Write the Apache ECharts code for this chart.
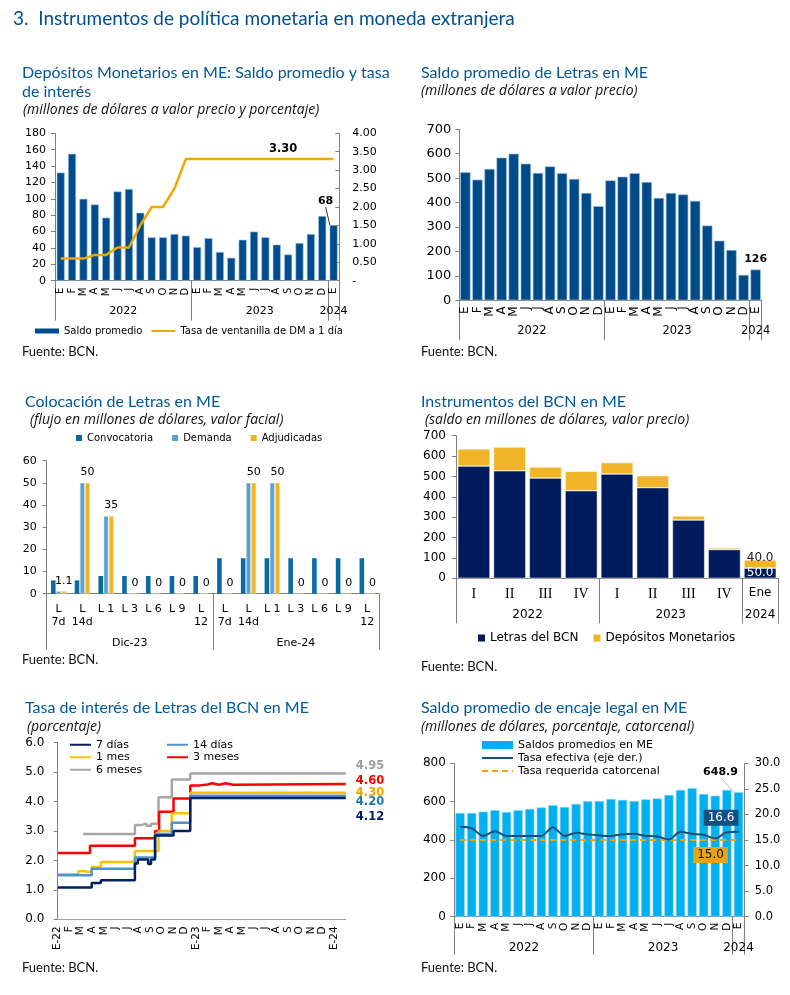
<!DOCTYPE html>
<html><head><meta charset="utf-8">
<script src="https://cdn.jsdelivr.net/npm/echarts@6/dist/echarts.min.js"></script>
<style>html,body{margin:0;padding:0;background:#fff}#c{width:790px;height:995px}</style>
</head><body><div id="c"></div>
<script>
// ---------- data ----------
const monthLetters = ['E','F','M','A','M','J','J','A','S','O','N','D','E','F','M','A','M','J','J','A','S','O','N','D','E'];
const years = ['2022','2023','2024'];
const yearCentres = [6, 18, 24.5];

// Panel 1: Depósitos Monetarios
const dmSaldo = [132,155,100,93,77,109,112,83,53,53,57,55,41,52,35,28,50,60,53,44,32,46,57,79,68];
const dmTasa = [0.60,0.60,0.60,0.70,0.70,0.90,0.90,1.50,2.00,2.00,2.50,3.30,3.30,3.30,3.30,3.30,3.30,3.30,3.30,3.30,3.30,3.30,3.30,3.30,3.30];

// Panel 2: Saldo promedio de Letras
const letrasSaldo = [524,494,538,584,600,559,521,548,520,497,439,385,491,506,520,484,419,439,433,407,306,244,206,104,126];

// Panel 3: Colocación de Letras
const colocCats = ['L\n7d','L\n14d','L 1','L 3','L 6','L 9','L\n12','L\n7d','L\n14d','L 1','L 3','L 6','L 9','L\n12'];
const colocGroups = ['Dic-23','Ene-24'];
const colocGroupCentres = [3.5, 10.5];
const convocatoria = [6,6,8,8,8,8,8,16,16,16,16,16,16,16];
const demanda = [1.1,50,35,0,0,0,0,0,50,50,0,0,0,0];
const adjudicadas = [1.1,50,35,0,0,0,0,0,50,50,0,0,0,0];

// Panel 4: Instrumentos del BCN
const instrCats = ['I','II','III','IV','I','II','III','IV','Ene'];
const instrYears = ['2022','2023','2024'];
const instrYearCentres = [2, 6, 8.5];
const letrasBCN = [551,528,492,430,512,445,286,141,50];
const depMonetarios = [84,116,54,95,56,59,20,8,40];

// Panel 5: Tasa de interés de Letras (month index, %)
const p5Ticks = ['E-22','F','M','A','M','J','J','A','S','O','N','D','E-23','F','M','A','M','J','J','A','S','O','N','D','E-24'];
const tasa7d = [[0,1.08],[2.95,1.23],[3.75,1.33],[6.7,1.90],[6.95,2.03],[7.85,1.88],[8.1,2.03],[8.45,2.85],[10.05,3.00],[11.5,4.12],[25,4.12]];
const tasa14d = [[0,1.50],[2.95,1.72],[6.7,2.10],[8.45,2.90],[9.9,3.28],[11.5,4.20],[25,4.20]];
const tasa1m = [[0,1.53],[1.8,1.63],[2.3,1.60],[2.95,1.78],[3.75,1.95],[6.7,2.32],[8.75,3.00],[9.9,3.60],[11.5,4.30],[25,4.30]];
const tasa3m = [[0,2.25],[2.8,2.50],[6.7,2.75],[8.45,3.00],[8.8,3.65],[10.05,4.10],[11.5,4.55],[12.3,4.58],[13.0,4.62],[13.4,4.57],[14.0,4.62],[14.6,4.57],[15.2,4.60],[25,4.60]];
const tasa6m = [[2.2,2.90],[6.7,3.20],[7.2,3.25],[7.7,3.18],[8.1,3.25],[8.75,4.15],[9.9,4.75],[11.5,4.95],[25,4.95]];
const p5EndLabels = ['4.12','4.20','4.30','4.60','4.95'];

// Panel 6: Encaje legal
const encajeSaldo = [541,541,548,556,546,555,562,570,581,572,588,602,603,614,609,603,612,617,635,661,670,640,631,661,648.9];
const tasaEfectiva = [17.6,17.3,15.8,16.7,15.8,15.8,15.8,15.8,17.5,15.8,16.4,16.1,15.9,15.8,16.1,16.2,15.8,15.7,15.1,16.6,16.2,16.0,15.3,16.5,16.6];
const tasaRequerida = [15,15,15,15,15,15,15,15,15,15,15,15,15,15,15,15,15,15,15,15,15,15,15,15,15];

// ---------- styling helpers ----------
const FONT = 'DejaVu Sans';
const TFONT = 'Lato';
const AX = '#808080';
const TXT = '#000';
const TBLUE = '#00589a';

function sepTicks(list) { return function (i) { return list.indexOf(i) >= 0; }; }
function monthAxis(gridIndex, data, sepIdx, tickLen, fontSize, margin) {
  return { gridIndex, type: 'category', data, position: 'bottom', boundaryGap: true,
    axisLine: { show: true, onZero: false, lineStyle: { color: AX } },
    axisTick: { show: true, alignWithLabel: false, interval: sepTicks(sepIdx), length: tickLen, lineStyle: { color: AX } },
    axisLabel: { interval: 0, rotate: 90, fontSize, fontFamily: FONT, color: TXT, margin },
    splitLine: { show: false } };
}
function groupAxis(gridIndex, max, labels, centres, margin, fontSize) {
  return { gridIndex, type: 'value', position: 'bottom', min: 0, max, interval: 0.5,
    axisLine: { show: false, onZero: false }, axisTick: { show: false }, splitLine: { show: false },
    axisLabel: { margin, fontSize, fontFamily: FONT, color: TXT, showMinLabel: true, showMaxLabel: true,
      formatter: function (v) { const k = centres.indexOf(v); return k >= 0 ? labels[k] : ''; } } };
}
function valAxis(gridIndex, min, max, interval, o) {
  o = o || {};
  return { gridIndex, type: 'value', min, max, interval, position: o.position || 'left', offset: o.offset || 0,
    axisLine: { show: true, lineStyle: { color: AX } },
    axisTick: { show: true, length: 4, inside: !!o.tickInside, lineStyle: { color: AX } },
    splitLine: { show: false },
    axisLabel: { fontSize: o.fontSize || 11, fontFamily: FONT, color: TXT, margin: o.margin || 8,
      formatter: o.formatter, align: o.align } };
}
function t(text, left, top, style) {
  return { text, left, top, padding: 0, textStyle: Object.assign({ fontFamily: TFONT, fontWeight: 'normal', color: TBLUE, fontSize: 16, lineHeight: 19 }, style || {}) };
}
const subStyle = { color: '#111', fontFamily: 'Open Sans', fontStyle: 'italic', fontSize: 14, lineHeight: 16 };
const srcStyle = { color: '#111', fontSize: 13, lineHeight: 16 };
const lineLegendItem = function (name) { return { name, itemStyle: { opacity: 0 } }; };
const legendText = function (size, lh) { return { fontFamily: FONT, fontSize: size, lineHeight: lh, color: TXT }; };

const last = 24;
function withLabel(arr, idx, extra) {
  return arr.map(function (v, i) { return i === idx ? Object.assign({ value: v }, extra) : v; });
}

const option = {
  animation: false,
  backgroundColor: '#fff',
  title: [
    t('3.  Instrumentos de política monetaria en moneda extranjera', 13, 6.5, { fontSize: 19, lineHeight: 24, color: '#00508f' }),
    t('Depósitos Monetarios en ME: Saldo promedio y tasa\nde interés', 22, 63.5),
    t('(millones de dólares a valor precio y porcentaje)', 23, 102, subStyle),
    t('Fuente: BCN.', 22, 344, srcStyle),
    t('Saldo promedio de Letras en ME', 421, 63.5),
    t('(millones de dólares a valor precio)', 421, 83, subStyle),
    t('Fuente: BCN.', 421, 344, srcStyle),
    t('Colocación de Letras en ME', 25, 392.5),
    t('(flujo en millones de dólares, valor facial)', 30, 412, subStyle),
    t('Fuente: BCN.', 22, 652, srcStyle),
    t('Instrumentos del BCN en ME', 421, 392.5),
    t('(saldo en millones de dólares, valor precio)', 425, 412, subStyle),
    t('Fuente: BCN.', 421, 659, srcStyle),
    t('Tasa de interés de Letras del BCN en ME', 25, 698.5),
    t('(porcentaje)', 27, 719, subStyle),
    t('Fuente: BCN.', 22, 960, srcStyle),
    t('Saldo promedio de encaje legal en ME', 421, 698.5),
    t('(millones de dólares, porcentaje, catorcenal)', 421, 719, subStyle),
    t('Fuente: BCN.', 421, 960, srcStyle)
  ],
  legend: [
    { data: [{ name: 'Saldo promedio', icon: 'rect' }, lineLegendItem('Tasa de ventanilla de DM a 1 día')], left: 35, top: 326, padding: 0,
      itemWidth: 24, itemHeight: 5, itemGap: 8, itemStyle: { borderWidth: 0 }, textStyle: legendText(10) },
    { data: ['Convocatoria', 'Demanda', 'Adjudicadas'], icon: 'rect', left: 76, top: 433, padding: 0,
      itemWidth: 6, itemHeight: 6, itemGap: 19, itemStyle: { borderWidth: 0 }, textStyle: legendText(10) },
    { data: ['Letras del BCN', 'Depósitos Monetarios'], icon: 'rect', left: 478, top: 632, padding: 0,
      itemWidth: 7, itemHeight: 7, itemGap: 15, itemStyle: { borderWidth: 0 }, textStyle: legendText(12) },
    { data: ['7 días', '1 mes', '6 meses'].map(lineLegendItem), orient: 'vertical', left: 69, top: 738.5, padding: 0,
      itemWidth: 21, itemHeight: 8, itemGap: 0, textStyle: legendText(11, 12.5) },
    { data: ['14 días', '3 meses'].map(lineLegendItem), orient: 'vertical', left: 166, top: 738.5, padding: 0,
      itemWidth: 21, itemHeight: 8, itemGap: 0, textStyle: legendText(11, 12.5) },
    { data: [{ name: 'Saldos promedios en ME', icon: 'rect' }, lineLegendItem('Tasa efectiva (eje der.)'), lineLegendItem('Tasa requerida catorcenal')], orient: 'vertical',
      left: 481, top: 738.5, padding: 0, itemWidth: 31, itemHeight: 8, itemGap: 0, itemStyle: { borderWidth: 0 },
      textStyle: legendText(11, 13) }
  ],
  grid: [
    { left: 55, top: 133.3, width: 284.3, height: 147.4 },
    { left: 459.3, top: 129.3, width: 302.4, height: 171 },
    { left: 46.7, top: 460.7, width: 332.3, height: 133 },
    { left: 456, top: 435.7, width: 322, height: 142.6 },
    { left: 57.7, top: 742.7, width: 288.1, height: 176.6 },
    { left: 454.3, top: 763.3, width: 290, height: 153.4 }
  ].map(function (g) { return Object.assign({ containLabel: false, outerBoundsMode: 'none' }, g); }),
  xAxis: [
    monthAxis(0, monthLetters, [0, 12, 24], 40, 10, 7),            // 0
    groupAxis(0, 25, years, yearCentres, 25, 11),                   // 1
    monthAxis(1, monthLetters, [0, 12, 24], 40, 12, 6),            // 2
    groupAxis(1, 25, years, yearCentres, 25, 11.5),                 // 3
    { gridIndex: 2, type: 'category', data: colocCats, position: 'bottom', boundaryGap: true,   // 4
      axisLine: { show: true, onZero: false, lineStyle: { color: AX } },
      axisTick: { show: true, alignWithLabel: false, interval: sepTicks([0, 7]), length: 56, lineStyle: { color: AX } },
      axisLabel: { interval: 0, fontSize: 11, lineHeight: 13, fontFamily: FONT, color: TXT, margin: 9 }, splitLine: { show: false } },
    groupAxis(2, 14, colocGroups, colocGroupCentres, 44, 11),        // 5
    { gridIndex: 3, type: 'category', data: instrCats, position: 'bottom', boundaryGap: true,   // 6
      axisLine: { show: true, onZero: false, lineStyle: { color: AX } },
      axisTick: { show: true, alignWithLabel: false, interval: sepTicks([0, 4, 8]), length: 45, lineStyle: { color: AX } },
      axisLabel: { interval: 0, color: TXT, margin: 9,
        formatter: function (v) { return v === 'Ene' ? '{n|' + v + '}' : '{r|' + v + '}'; },
        rich: { r: { fontFamily: 'Liberation Serif', fontSize: 14, color: TXT }, n: { fontFamily: FONT, fontSize: 12, color: TXT } } },
      splitLine: { show: false } },
    groupAxis(3, 9, instrYears, instrYearCentres, 31, 12),          // 7
    { gridIndex: 4, type: 'value', min: 0, max: 25, interval: 1, position: 'bottom',   // 8
      axisLine: { show: true, onZero: false, lineStyle: { color: '#a0a0a0' } }, axisTick: { show: false }, splitLine: { show: false },
      axisLabel: { rotate: 90, fontSize: 10.5, fontFamily: FONT, color: TXT, margin: 7, showMinLabel: true, showMaxLabel: true,
        formatter: function (v) { return p5Ticks[v] !== undefined ? p5Ticks[v] : ''; } } },
    monthAxis(5, monthLetters, [0, 12, 24], 38, 10.5, 6),          // 9
    groupAxis(5, 25, years, yearCentres, 25, 12)                    // 10
  ],
  yAxis: [
    valAxis(0, 0, 180, 20, { margin: 9 }),
    valAxis(0, 0, 4, 0.5, { position: 'right', margin: 13, tickInside: true,
      formatter: function (v) { return v === 0 ? '-' : v.toFixed(2); } }),
    valAxis(1, 0, 700, 100, { fontSize: 13, margin: 8 }),
    valAxis(2, 0, 60, 10, { fontSize: 11, margin: 10 }),
    valAxis(3, 0, 700, 100, { fontSize: 12, margin: 10 }),
    valAxis(4, 0, 6, 1, { fontSize: 12, margin: 9, offset: 4.4, formatter: function (v) { return v.toFixed(1); } }),
    valAxis(5, 0, 800, 200, { fontSize: 12, margin: 8.5 }),
    valAxis(5, 0, 30, 5, { position: 'right', fontSize: 11.5, margin: 10.5, formatter: function (v) { return v.toFixed(1); } })
  ],
  series: [
    // Panel 1
    { name: 'Saldo promedio', type: 'bar', xAxisIndex: 0, yAxisIndex: 0, barCategoryGap: '30%',
      data: withLabel(dmSaldo, last, { label: { show: true } }),
      itemStyle: { color: '#004c8c', borderColor: '#9cc3e4', borderWidth: 0.6 },
      label: { show: false, position: 'top', fontFamily: FONT, fontWeight: 'bold', fontSize: 11, color: TXT },
      labelLayout: function (p) { return p.dataIndex === last ? { dx: -8, dy: -13 } : {}; },
      labelLine: { show: true, lineStyle: { color: '#000', width: 0.8 } } },
    { name: 'Tasa de ventanilla de DM a 1 día', type: 'line', xAxisIndex: 0, yAxisIndex: 1, symbol: 'none', z: 3,
      data: withLabel(dmTasa, 20, { symbol: 'circle', symbolSize: 1,
        label: { show: true, position: 'inside', offset: [-5, -10], formatter: function (p) { return p.value.toFixed(2); },
          fontFamily: FONT, fontWeight: 'bold', fontSize: 11.5, color: TXT } }),
      lineStyle: { color: '#f0a800', width: 2.5 }, itemStyle: { color: '#f0a800' } },
    // Panel 2
    { name: 'Saldo Letras', type: 'bar', xAxisIndex: 2, yAxisIndex: 2, barCategoryGap: '15%',
      data: withLabel(letrasSaldo, last, { label: { show: true } }),
      itemStyle: { color: '#004a88', borderColor: '#9cc3e4', borderWidth: 0.6 },
      label: { show: false, position: 'top', distance: 5, fontFamily: FONT, fontWeight: 'bold', fontSize: 11, color: TXT } },
    // Panel 3
    { name: 'Convocatoria', type: 'bar', xAxisIndex: 4, yAxisIndex: 3, barWidth: 4.6, barGap: '15%', data: convocatoria,
      itemStyle: { color: '#0a6aa1' } },
    { name: 'Demanda', type: 'bar', xAxisIndex: 4, yAxisIndex: 3, barWidth: 4.6, barGap: '15%', data: demanda,
      itemStyle: { color: '#5aa0cc', borderColor: '#c5def0', borderWidth: 0.5 } },
    { name: 'Adjudicadas', type: 'bar', xAxisIndex: 4, yAxisIndex: 3, barWidth: 4.6, barGap: '15%', data: adjudicadas,
      itemStyle: { color: '#f0b323', borderColor: '#f8dc9a', borderWidth: 0.5 },
      label: { show: true, position: 'top', distance: 5, fontFamily: FONT, fontSize: 11, color: TXT } },
    // Panel 4
    { name: 'Letras del BCN', type: 'bar', xAxisIndex: 6, yAxisIndex: 4, stack: 'instr', barCategoryGap: '10%',
      data: withLabel(letrasBCN, 8, { label: { show: true, position: 'inside', color: '#fff', formatter: function (p) { return p.value.toFixed(1); } } }),
      itemStyle: { color: '#001a5e', borderColor: '#ffffff', borderWidth: 0.5 },
      label: { show: false, fontFamily: FONT, fontSize: 12 } },
    { name: 'Depósitos Monetarios', type: 'bar', xAxisIndex: 6, yAxisIndex: 4, stack: 'instr', barCategoryGap: '10%',
      data: withLabel(depMonetarios, 8, { label: { show: true, position: 'inside', offset: [0, -6], color: '#1a1a1a', formatter: function (p) { return p.value.toFixed(1); } } }),
      itemStyle: { color: '#f0b429', borderColor: '#ffffff', borderWidth: 0.5 },
      label: { show: false, fontFamily: FONT, fontSize: 12 } },
    // Panel 5
    { name: '6 meses', type: 'line', xAxisIndex: 8, yAxisIndex: 5, step: 'end', symbol: 'none', data: tasa6m,
      lineStyle: { color: '#a6a6a6', width: 2.5 }, itemStyle: { color: '#a6a6a6' },
      endLabel: { show: true, formatter: p5EndLabels[4], color: '#a0a0a0', fontFamily: FONT, fontWeight: 'bold', fontSize: 11.5, offset: [2, -7.6] } },
    { name: '3 meses', type: 'line', xAxisIndex: 8, yAxisIndex: 5, step: 'end', symbol: 'none', data: tasa3m,
      lineStyle: { color: '#ff0000', width: 2.5 }, itemStyle: { color: '#ff0000' },
      endLabel: { show: true, formatter: p5EndLabels[3], color: '#ff0000', fontFamily: FONT, fontWeight: 'bold', fontSize: 11.5, offset: [2, -3] } },
    { name: '1 mes', type: 'line', xAxisIndex: 8, yAxisIndex: 5, step: 'end', symbol: 'none', data: tasa1m,
      lineStyle: { color: '#ffc000', width: 2.5 }, itemStyle: { color: '#ffc000' },
      endLabel: { show: true, formatter: p5EndLabels[2], color: '#f0a800', fontFamily: FONT, fontWeight: 'bold', fontSize: 11.5, offset: [2, 0] } },
    { name: '14 días', type: 'line', xAxisIndex: 8, yAxisIndex: 5, step: 'end', symbol: 'none', data: tasa14d,
      lineStyle: { color: '#4e95c9', width: 2.5 }, itemStyle: { color: '#4e95c9' },
      endLabel: { show: true, formatter: p5EndLabels[1], color: '#1b78b0', fontFamily: FONT, fontWeight: 'bold', fontSize: 11.5, offset: [2, 6] } },
    { name: '7 días', type: 'line', xAxisIndex: 8, yAxisIndex: 5, step: 'end', symbol: 'none', data: tasa7d,
      lineStyle: { color: '#002060', width: 2.5 }, itemStyle: { color: '#002060' },
      endLabel: { show: true, formatter: p5EndLabels[0], color: '#002060', fontFamily: FONT, fontWeight: 'bold', fontSize: 11.5, offset: [2, 18.7] } },
    // Panel 6
    { name: 'Saldos promedios en ME', type: 'bar', xAxisIndex: 9, yAxisIndex: 6, barCategoryGap: '20%',
      data: withLabel(encajeSaldo, last, { label: { show: true } }),
      itemStyle: { color: '#00b0f0', borderColor: '#8fd9f7', borderWidth: 0.6 },
      label: { show: false, position: 'top', fontFamily: FONT, fontWeight: 'bold', fontSize: 11, color: TXT },
      labelLayout: function (p) { return p.dataIndex === last ? { dx: -18, dy: -10 } : {}; },
      labelLine: { show: true, lineStyle: { color: '#a6a6a6', width: 0.8 } } },
    { name: 'Tasa efectiva (eje der.)', type: 'line', xAxisIndex: 9, yAxisIndex: 7, symbol: 'none', smooth: 0.3, z: 4,
      data: withLabel(tasaEfectiva, last, { symbol: 'circle', symbolSize: 1,
        label: { show: true, position: 'inside', offset: [-17.5, -14], backgroundColor: '#134f82', color: '#fff', padding: [2, 4],
          fontFamily: FONT, fontSize: 12, formatter: function (p) { return p.value.toFixed(1); } } }),
      lineStyle: { color: '#134f82', width: 2 }, itemStyle: { color: '#134f82' } },
    { name: 'Tasa requerida catorcenal', type: 'line', xAxisIndex: 9, yAxisIndex: 7, symbol: 'none', z: 3,
      data: withLabel(tasaRequerida, last, { symbol: 'circle', symbolSize: 1,
        label: { show: true, position: 'inside', offset: [-28, 15], backgroundColor: '#e8a317', color: '#111', padding: [2, 4],
          fontFamily: FONT, fontSize: 12, formatter: function (p) { return p.value.toFixed(1); } } }),
      lineStyle: { color: '#f0a500', width: 2, type: [6, 4] }, itemStyle: { color: '#f0a500' } }
  ]
};

const chart = echarts.init(document.getElementById('c'), null, { renderer: 'canvas', width: 790, height: 995 });
chart.setOption(option);
</script></body></html>
